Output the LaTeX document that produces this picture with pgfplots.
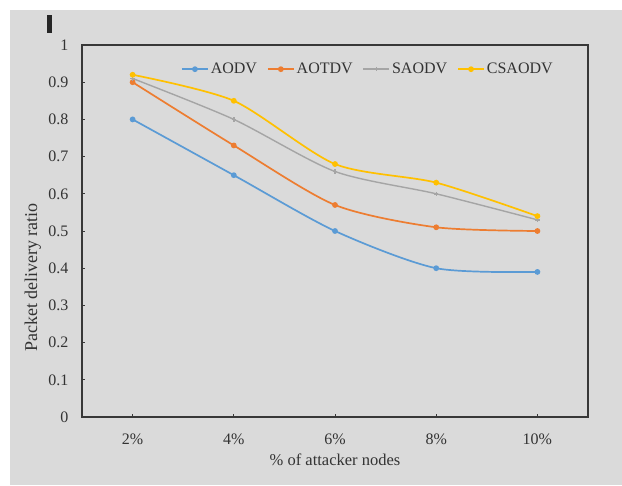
\documentclass[border=0pt]{standalone}
\usepackage{fontspec}
\setmainfont{Liberation Serif}
\usepackage{pgfplots}
\pgfplotsset{compat=1.18}

\definecolor{cAODV}{HTML}{5B9BD5}
\definecolor{cAOTDV}{HTML}{ED7D31}
\definecolor{cSAODV}{HTML}{A5A5A5}
\definecolor{cCSAODV}{HTML}{FFC000}
\definecolor{panel}{HTML}{DADADA}
\definecolor{frame}{HTML}{383838}

\begin{document}
\begin{tikzpicture}
  \begin{axis}[
    set layers, clip=false,
    scale only axis, width=506pt, height=372pt,
    xmin=0.5, xmax=5.5, ymin=0, ymax=1,
    xtick={1,2,3,4,5},
    xticklabels={2\%,4\%,6\%,8\%,10\%},
    ytick={0,0.1,...,1.0},
    /pgf/number format/fixed,
    /pgf/number format/precision=1,
    /pgf/number format/assume math mode=true,
    tick align=inside,
    xtick pos=bottom, ytick pos=left,
    major tick length=3pt,
    tick style={frame, line width=1pt},
    axis line style={frame, line width=1.5pt},
    ticklabel style={font=\fontsize{16}{17}\selectfont, text=black!80},
    xticklabel style={yshift=-13pt},
    yticklabel style={xshift=-10pt},
    xlabel={\% of attacker nodes},
    ylabel={Packet delivery ratio},
    xlabel style={font=\fontsize{16.5}{17}\selectfont, text=black!80, yshift=-3pt},
    ylabel style={font=\fontsize{18}{19}\selectfont, text=black!80,
      at={(axis description cs:-0.074,0.375)}},
    legend style={draw=none, fill=none, at={(axis description cs:0.565,0.935)},
      anchor=center, legend columns=4,
      font=\fontsize{16}{17}\selectfont, text=black!80,
      /tikz/every even column/.append style={column sep=8pt}},
    legend image code/.code={
      \draw[#1] (0pt,0pt) -- (26pt,0pt);
      \draw[#1, only marks] plot coordinates {(13pt,0pt)};},
    every axis plot/.append style={line width=1.7pt, smooth, tension=0.45,
      mark=*, mark size=2pt},
  ]
    % page and grey panel behind the plot
    \begin{pgfonlayer}{axis background}
      \fill[white] (rel axis cs:-0.1621,-0.1828) rectangle (rel axis cs:1.0672,1.1210);
      \fill[panel] (rel axis cs:-0.1423,-0.1828) rectangle (rel axis cs:1.0672,1.0941);
      \fill[black!85] (rel axis cs:-0.0692,1.032) rectangle (rel axis cs:-0.0593,1.081);
    \end{pgfonlayer}
    \coordinate (pageLL) at (rel axis cs:-0.1621,-0.1828);
    \coordinate (pageUR) at (rel axis cs:1.0672,1.1210);

    \addplot[cAODV, mark options={fill=cAODV}] coordinates
      {(1,0.80) (2,0.65) (3,0.50) (4,0.40) (5,0.39)};
    \addlegendentry{AODV}
    \addplot[cAOTDV, mark options={fill=cAOTDV}] coordinates
      {(1,0.90) (2,0.73) (3,0.57) (4,0.51) (5,0.50)};
    \addlegendentry{AOTDV}
    \addplot[cSAODV, mark=+, mark size=2.2pt, line width=1.4pt] coordinates
      {(1,0.91) (2,0.80) (3,0.66) (4,0.60) (5,0.53)};
    \addlegendentry{SAODV}
    \addplot[cCSAODV, mark options={fill=cCSAODV}] coordinates
      {(1,0.92) (2,0.85) (3,0.68) (4,0.63) (5,0.54)};
    \addlegendentry{CSAODV}
  \end{axis}
  \pgfresetboundingbox
  \useasboundingbox (pageLL) rectangle (pageUR);
\end{tikzpicture}
\end{document}
